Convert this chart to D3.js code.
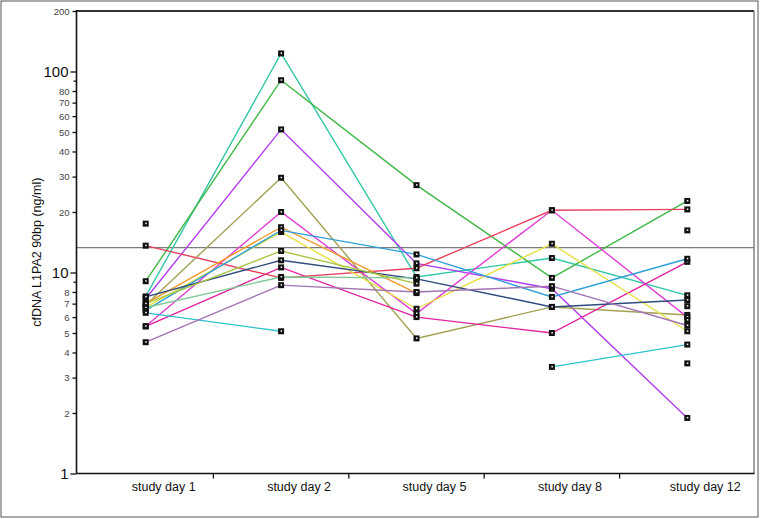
<!DOCTYPE html>
<html><head><meta charset="utf-8">
<script src="https://cdn.jsdelivr.net/npm/d3@7"></script>
<style>body{margin:0;background:#fff}svg{display:block;font-family:"Liberation Sans",Arial,sans-serif}</style>
</head><body>
<svg id="c" width="760" height="519"></svg>
<script>
const days = ["study day 1","study day 2","study day 5","study day 8","study day 12"];
const tealVals      = [7.6, 123, 9.5, 11.8, 7.7];
const greenVals     = [9.05, 90.5, 27.2, 9.4, 22.7];
const violetVals    = [7.4, 51.5, 11.1, 8.3, 1.89];
const oliveVals     = [6.9, 29.6, 4.7, 6.74, 6.15];
const magentaAVals  = [5.4, 20.0, 6.25, 20.4, 6.0];
const magentaBVals  = [5.4, 10.6, 6.0, 5.0, 11.3];
const redVals       = [13.6, 9.4, 10.5, 20.4, 20.6];
const orangeVals    = [7.0, 16.8, 7.9, null, null];
const yellowVals    = [6.7, 15.9, 6.6, 13.9, 5.1];
const blueVals      = [6.5, 16.2, 12.3, 7.56, 11.7];
const navyVals      = [7.56, 11.5, 9.3, 6.74, 7.3];
const lightGreenVals= [6.7, 9.5, 9.4, null, null];
const yellowGreenVals=[7.0, 12.8, 8.8, null, null];
const cyanVals      = [6.3, 5.1, null, 3.39, 4.38];
const mauveVals     = [4.5, 8.65, 8.0, 8.55, 5.45];
const single1Vals   = [17.5, null, null, null, null];
const single2Vals   = [null, null, null, null, 16.2];
const single3Vals   = [null, null, null, null, 3.53];
const single4Vals   = [null, null, null, null, 6.8];
const single5Vals   = [null, null, null, null, 5.8];
const seriesList = [
  {v: tealVals, c: "#33c7a6"}, {v: greenVals, c: "#3fb845"}, {v: violetVals, c: "#b23cf0"},
  {v: oliveVals, c: "#a3a052"}, {v: magentaAVals, c: "#e03fd6"}, {v: magentaBVals, c: "#e0229f"},
  {v: redVals, c: "#e8435e"}, {v: orangeVals, c: "#f09a2a"}, {v: yellowVals, c: "#e6e045"},
  {v: blueVals, c: "#2f9fd8"}, {v: navyVals, c: "#2d4b7d"}, {v: lightGreenVals, c: "#7fc994"},
  {v: yellowGreenVals, c: "#a6c443"}, {v: cyanVals, c: "#2fc3cc"}, {v: mauveVals, c: "#a274b3"},
  {v: single1Vals, c: "#000"}, {v: single2Vals, c: "#000"}, {v: single3Vals, c: "#000"},
  {v: single4Vals, c: "#000"}, {v: single5Vals, c: "#000"}
];
const refLine = 13.3;
const majorTicks = [1, 10, 100];
const labeledMinor = [2,3,4,5,6,7,8,20,30,40,50,60,70,80,200];
const unlabeledMinor = [9, 90];
const yTitle = "cfDNA L1PA2 90bp (ng/ml)";

const L = 76.5, R = 754, T = 11, B = 473.5;
const svg = d3.select("#c");
svg.append("rect").attr("x",1).attr("y",1).attr("width",757).attr("height",516)
  .attr("fill","none").attr("stroke","#555").attr("stroke-width",1);

const x = d3.scaleBand().domain(days).range([L+1.5, R+1]).padding(0);
const y = d3.scaleLog().domain([1, 200]).range([B, T]);

// frame
svg.append("line").attr("x1",L).attr("x2",R).attr("y1",T).attr("y2",T).attr("stroke","#333").attr("stroke-width",2);
svg.append("line").attr("x1",R).attr("x2",R).attr("y1",T).attr("y2",B).attr("stroke","#444").attr("stroke-width",1);

// reference line
svg.append("line").attr("x1",L).attr("x2",R).attr("y1",y(refLine)).attr("y2",y(refLine))
  .attr("stroke","#7a7a7a").attr("stroke-width",1.2);

// y axis
const yMajor = svg.append("g").attr("transform",`translate(${L},0)`)
  .call(d3.axisLeft(y).tickValues(majorTicks).tickSize(6).tickPadding(2).tickFormat(d3.format("d")));
yMajor.select(".domain").remove();
yMajor.selectAll("text").attr("font-size",15).attr("fill","#111").attr("font-family","Liberation Sans, Arial");
yMajor.selectAll("line").attr("stroke","#111").attr("stroke-width",1.3);
const yMinor = svg.append("g").attr("transform",`translate(${L},0)`)
  .call(d3.axisLeft(y).tickValues(labeledMinor).tickSize(4).tickPadding(3).tickFormat(d3.format("d")));
yMinor.select(".domain").remove();
yMinor.selectAll("text").attr("font-size",9.5).attr("fill","#444").attr("font-family","Liberation Sans, Arial");
yMinor.selectAll("line").attr("stroke","#111").attr("stroke-width",1.3);
const yUn = svg.append("g").attr("transform",`translate(${L},0)`)
  .call(d3.axisLeft(y).tickValues(unlabeledMinor).tickSize(3).tickFormat(""));
yUn.select(".domain").remove();
yUn.selectAll("line").attr("stroke","#111").attr("stroke-width",1.3);
svg.append("line").attr("x1",L).attr("x2",L).attr("y1",T-1).attr("y2",B).attr("stroke","#111").attr("stroke-width",1.6);

// x axis
svg.append("line").attr("x1",L).attr("x2",R+0.5).attr("y1",B).attr("y2",B).attr("stroke","#111").attr("stroke-width",1.6);
const bounds = days.slice(1).map(d => x(d));
svg.append("g").selectAll("line").data(bounds).join("line")
  .attr("x1",d=>d).attr("x2",d=>d).attr("y1",B).attr("y2",B+5).attr("stroke","#111").attr("stroke-width",1.3);
svg.append("g").selectAll("text").data(days).join("text")
  .attr("x",d=>x(d)+x.bandwidth()/2+18).attr("y",B+17).attr("text-anchor","middle")
  .attr("font-size",12.5).attr("fill","#111").text(d=>d);

// y title
svg.append("text").attr("transform",`translate(41,${(T+B)/2+10}) rotate(-90)`)
  .attr("text-anchor","middle").attr("font-size",12.5).attr("fill","#111").text(yTitle);

// lines
const cx = i => x(days[i]) + x.bandwidth()/2;
const line = d3.line().defined(d => d.v != null).x(d => cx(d.i)).y(d => y(d.v));
seriesList.forEach(s => {
  const pts = s.v.map((v,i)=>({v,i}));
  svg.append("path").datum(pts).attr("d",line).attr("fill","none")
    .attr("stroke",s.c).attr("stroke-width",1.4);
});
// markers
seriesList.forEach(s => {
  const pts = s.v.map((v,i)=>({v,i})).filter(d=>d.v!=null);
  const g = svg.append("g");
  g.selectAll("rect.o").data(pts).join("rect").attr("class","o")
    .attr("x",d=>cx(d.i)-3).attr("y",d=>y(d.v)-3).attr("width",6).attr("height",6)
    .attr("fill","#111");
  g.selectAll("rect.i").data(pts).join("rect").attr("class","i")
    .attr("x",d=>cx(d.i)-0.5).attr("y",d=>y(d.v)-1).attr("width",1.5).attr("height",1.5)
    .attr("fill","#fff");
});
</script>
</body></html>
